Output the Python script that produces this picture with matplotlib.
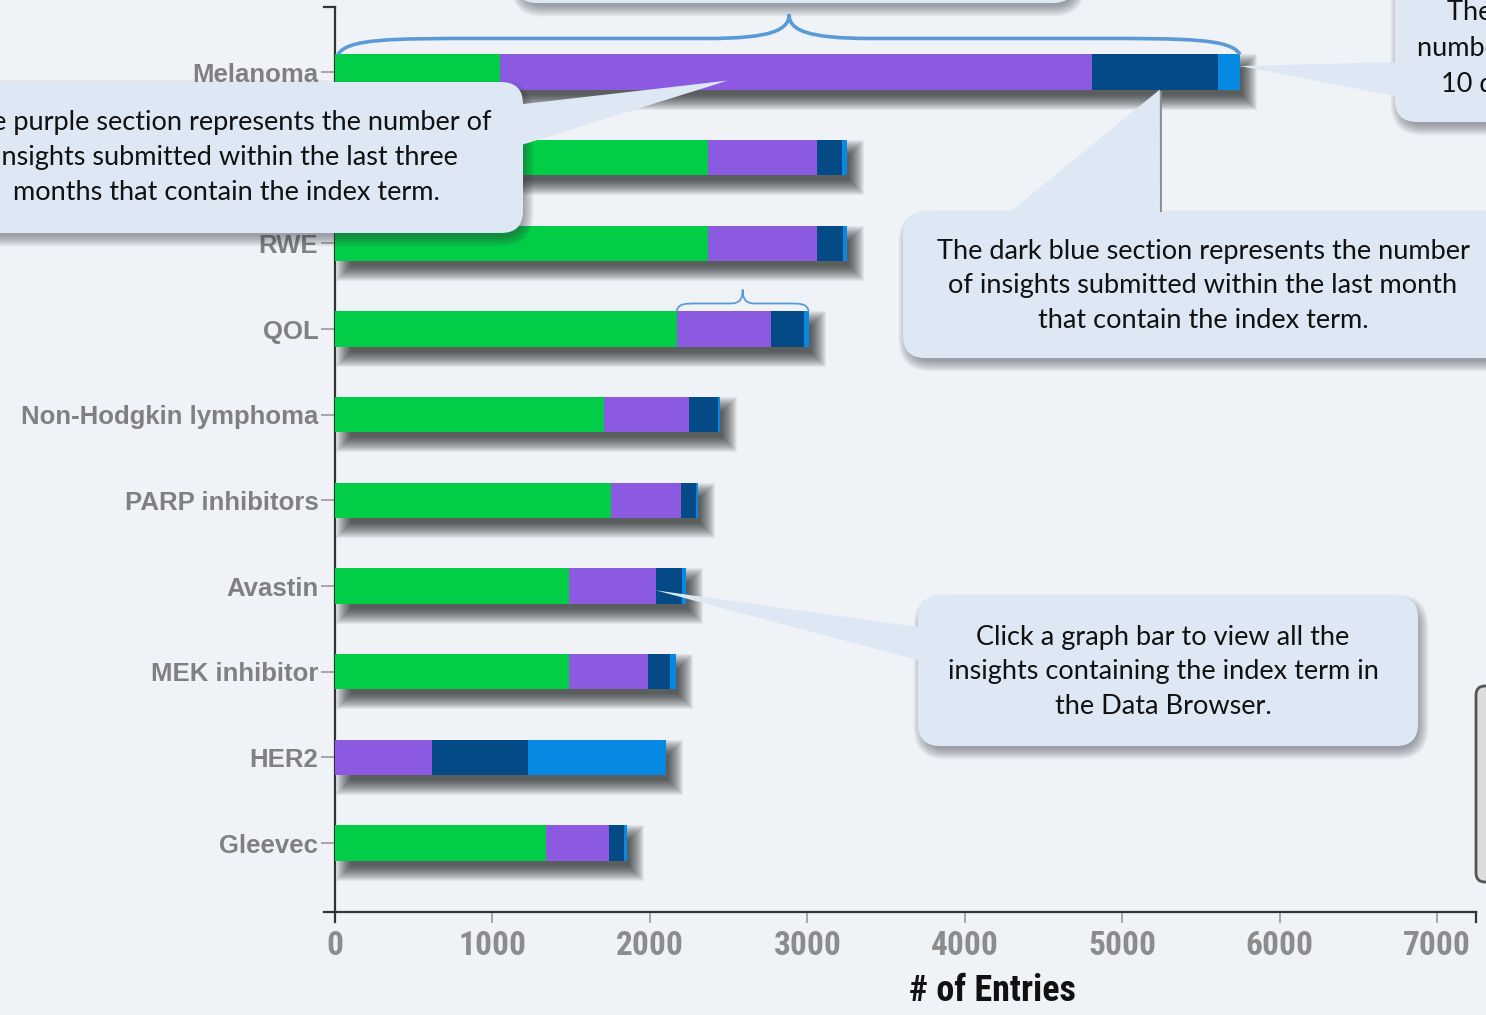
import numpy as np
import matplotlib
matplotlib.use('Agg')
import matplotlib.pyplot as plt
from matplotlib import font_manager
from matplotlib.patches import FancyBboxPatch, Polygon, PathPatch
from matplotlib.path import Path

# ---- data ----
categories = ['Melanoma', 'Immunotherapy', 'RWE', 'QOL', 'Non-Hodgkin lymphoma',
              'PARP inhibitors', 'Avastin', 'MEK inhibitor', 'HER2', 'Gleevec']
older = [1045, 2366, 2370, 2170, 1706, 1750, 1484, 1483, 0, 1337]
last_3_months = [3761, 693, 690, 597, 540, 445, 552, 507, 613, 401]
last_month = [801, 159, 165, 210, 184, 95, 165, 137, 615, 95]
last_10_days = [140, 32, 25, 31, 13, 13, 26, 36, 872, 19]
x_ticks = [0, 1000, 2000, 3000, 4000, 5000, 6000, 7000]
x_max = 7246

series = [older, last_3_months, last_month, last_10_days]
series_colors = ['#02cd46', '#8b5ae0', '#034a86', '#0589e3']

BG = '#eff3f7'
BOX = '#dde8f4'
BRACE = '#5b9bd5'
W, H = 1486, 1015

# a narrow bold face for the x axis if one is installed
installed = {f.name for f in font_manager.fontManager.ttflist}
narrow = None
for name in ['Liberation Sans Narrow', 'Arial Narrow', 'Roboto Condensed',
             'Open Sans Condensed', 'DejaVu Sans Condensed']:
    if name in installed:
        narrow = name
        break
if narrow is not None:
    xfam, xtick_size, xlab_size = [narrow, 'Liberation Sans'], 24, 26
else:
    xfam, xtick_size, xlab_size = ['Liberation Sans'], 21, 23

fig = plt.figure(figsize=(W / 100, H / 100), dpi=100)
fig.patch.set_facecolor(BG)
ax = fig.add_axes([335 / W, 1 - 912 / H, (1476 - 335) / W, (912 - 7) / H])
ax.set_facecolor(BG)
ax.set_xlim(0, x_max)
ax.set_ylim(9.805, -0.759)

ypos = np.arange(len(categories))
bar_h = 0.41
totals = np.sum(np.array(series), axis=0)

# px -> data units
px_x = x_max / (1476 - 335)
px_y = (9.805 + 0.759) / (912 - 7)

# soft drop shadow under each bar (stacked translucent layers fake a blur)
for k in range(16):
    s = k * 1.0
    ax.barh(ypos + 10 * px_y, totals + 2 * s * px_x - 14 * px_x, left=(16 - s) * px_x,
            height=bar_h + 2 * s * px_y - 10 * px_y, color='#0a0a0a', alpha=0.06,
            linewidth=0, zorder=2)

left = np.zeros(len(categories))
for vals, c in zip(series, series_colors):
    ax.barh(ypos, vals, left=left, height=bar_h, color=c, linewidth=0, zorder=3)
    left = left + np.array(vals)

# ---- axes styling ----
for side in ['top', 'right']:
    ax.spines[side].set_visible(False)
for side in ['left', 'bottom']:
    ax.spines[side].set_color('#333333')
    ax.spines[side].set_linewidth(1.6)

ax.set_yticks(ypos, categories)
ax.tick_params(axis='y', length=10, width=1.2, color='#9a9a9a', pad=2,
               labelsize=18.5, labelcolor='#808080')
for lab in ax.get_yticklabels():
    lab.set_fontweight('bold')
    lab.set_family('Liberation Sans')

ax.set_xticks(x_ticks)
ax.tick_params(axis='x', length=8, width=1.2, color='#9a9a9a', pad=5,
               labelsize=xtick_size, labelcolor='#8c8c8c')
for lab in ax.get_xticklabels():
    lab.set_fontweight('bold')
    lab.set_family(xfam)

ax.set_xlabel('# of Entries', fontsize=xlab_size, fontweight='bold', color='#111111',
              family=xfam)
ax.xaxis.set_label_coords((992 - 335) / (1476 - 335), -(991 - 912) / (912 - 7))
ax.xaxis.label.set_va('center')

# outer ticks of the d3-style domain paths
ow = 11 / (1476 - 335)
oh = 10 / (912 - 7)
for xs, ys in [([-ow, 0], [1, 1]), ([-ow, 0], [0, 0]), ([0, 0], [0, -oh]), ([1, 1], [0, -oh])]:
    ax.plot(xs, ys, transform=ax.transAxes, clip_on=False, color='#333333', lw=1.6)

# ---- overlay in pixel coordinates for the callouts ----
ov = fig.add_axes([0, 0, 1, 1], zorder=5)
ov.set_xlim(0, W)
ov.set_ylim(H, 0)
ov.axis('off')
ov.patch.set_alpha(0)


def to_px(x, y):
    d = ax.transData.transform((x, y))
    return ov.transData.inverted().transform(d)


def box(x0, y0, x1, y1, r=22, fc=BOX, ec='none', lw=0, shadow=True):
    if shadow:
        for k in range(9):
            s = k * 1.3
            ov.add_patch(FancyBboxPatch((x0 + 6 - s, y0 + 9 - s), x1 - x0 + 2 * s - 6, y1 - y0 + 2 * s - 6,
                                        boxstyle=f'round,pad=0,rounding_size={r + s}',
                                        fc='#303540', ec='none', alpha=0.06, zorder=1))
    ov.add_patch(FancyBboxPatch((x0, y0), x1 - x0, y1 - y0,
                                boxstyle=f'round,pad=0,rounding_size={r}',
                                fc=fc, ec=ec, lw=lw, zorder=2))


def pointer(p1, p2, tip):
    ov.add_patch(Polygon([p1, tip, p2], closed=True, fc=BOX, ec='none', zorder=2))


def lines(x, ys, texts, ha='center'):
    for y, t in zip(ys, texts):
        ov.text(x, y, t, ha=ha, va='center', fontsize=19.5, family='Lato',
                color='#111111', zorder=3)


def brace(x0, x1, yb, ya, yp, lw):
    w = x1 - x0
    xm = (x0 + x1) / 2
    yj = ya - 0.35 * (ya - yp)
    verts = [(x0, yb),
             (x0 + 0.01 * w, ya), (x0 + 0.06 * w, ya), (x0 + 0.16 * w, ya),
             (xm - 0.09 * w, ya),
             (xm - 0.02 * w, ya), (xm, yj), (xm, yp),
             (xm, yj), (xm + 0.02 * w, ya), (xm + 0.09 * w, ya),
             (x1 - 0.16 * w, ya),
             (x1 - 0.06 * w, ya), (x1 - 0.01 * w, ya), (x1, yb)]
    codes = [Path.MOVETO, Path.CURVE4, Path.CURVE4, Path.CURVE4, Path.LINETO,
             Path.CURVE4, Path.CURVE4, Path.CURVE4, Path.CURVE4, Path.CURVE4, Path.CURVE4,
             Path.LINETO, Path.CURVE4, Path.CURVE4, Path.CURVE4]
    ov.add_patch(PathPatch(Path(verts, codes), fc='none', ec=BRACE, lw=lw, zorder=4))


# top box (mostly outside the picture)
box(515, -80, 1075, 3)

# big brace over Melanoma bar
bx0, by = to_px(20, 0 - bar_h / 2)
bx1, _ = to_px(totals[0], 0 - bar_h / 2)
brace(bx0, bx1, by, by - 16, by - 40, 2.6)

# small brace over the recent part of QOL
qx0, qy = to_px(older[3], 3 - bar_h / 2)
qx1, _ = to_px(totals[3], 3 - bar_h / 2)
brace(qx0, qx1, qy, qy - 8, qy - 22, 1.3)

# purple callout
tip = to_px(older[0] + 1449, 0.1)
box(-80, 82, 523, 233)
pointer((515, 105), (515, 147), tip)
lines(226, [122, 157, 192], ['The purple section represents the number of',
                             'insights submitted within the last three',
                             'months that contain the index term.'])

# dark blue callout
tip = to_px(older[0] + last_3_months[0] + 432, bar_h / 2)
box(903, 212, 1560, 358)
pointer((1005, 216), (1160, 216), tip)
ov.plot([tip[0], tip[0]], [tip[1] + 2, 212], color='#8c8c8c', lw=2, zorder=1.5)
lines(1203, [251, 286, 321], ['The dark blue section represents the number',
                              'of insights submitted within the last month',
                              'that contain the index term.'])

# light blue callout (cut at the right edge)
tip = to_px(totals[0], -0.07)
box(1395, -80, 1950, 122)
pointer((1400, 62), (1400, 97), tip)
ov.text(1447, 12, 'The light blue section represents the', ha='left', va='center',
        fontsize=19.5, family='Lato', color='#111111', zorder=3)
ov.text(1417, 48, 'number of insights submitted within the last', ha='left', va='center',
        fontsize=19.5, family='Lato', color='#111111', zorder=3)
ov.text(1441, 84, '10 days that contain the index term.', ha='left', va='center',
        fontsize=19.5, family='Lato', color='#111111', zorder=3)

# bottom callout
tip = to_px(older[6] + last_3_months[6], 6.05)
box(918, 596, 1418, 746)
pointer((925, 628), (925, 662), tip)
lines(1163, [637, 672, 707], ['Click a graph bar to view all the',
                              'insights containing the index term in',
                              'the Data Browser.'])

# legend box peeking in at the right edge
box(1476, 686, 1560, 882, r=9, fc='#dcdcdc', ec='#555555', lw=2, shadow=False)

fig.savefig('out.png', dpi=100, facecolor=BG)
